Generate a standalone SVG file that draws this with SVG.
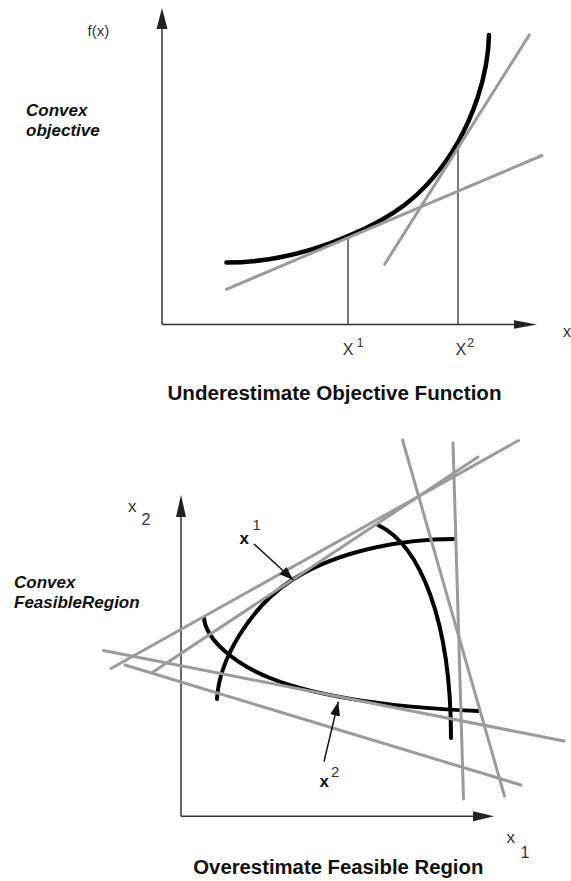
<svg xmlns="http://www.w3.org/2000/svg" width="571" height="881" viewBox="0 0 571 881">
<style>
.axis{stroke:#333;stroke-width:1.5;fill:none}
.thin{stroke:#333;stroke-width:1.3;fill:none}
.curve{stroke:#000;stroke-width:4.5;fill:none;stroke-linecap:round}
.curve2{stroke:#000;stroke-width:4;fill:none;stroke-linecap:round}
.gray{stroke:#9b9b9b;stroke-width:3;fill:none;stroke-linecap:round}
.ptr{stroke:#111;stroke-width:1.5;fill:none}
.head{fill:#111}
.lbl{font-family:"Liberation Sans",Arial,sans-serif;fill:#333}
.note{font-family:"Liberation Sans",Arial,sans-serif;font-weight:bold;font-style:italic;font-size:17px;fill:#111}
.title{font-family:"Liberation Sans",Arial,sans-serif;font-weight:bold;font-size:20px;fill:#111}
.bx{font-family:"Liberation Sans",Arial,sans-serif;font-weight:bold;fill:#111}
</style>
<defs>
<marker id="ah" viewBox="0 0 14 10" refX="14" refY="5" markerWidth="14" markerHeight="10" markerUnits="userSpaceOnUse" orient="auto">
<path d="M0,0 L14,5 L0,10 Z" class="head"/>
</marker>
</defs>

<g id="top-chart">
  <g id="top-axes">
    <line class="axis" x1="162" y1="324.5" x2="162" y2="27"/>
    <polygon points="162,8 156.5,29 167.5,29" fill="#222"/>
    <line class="axis" x1="162" y1="324.5" x2="516" y2="324.5"/>
    <polygon points="537,324.5 514,320.2 514,328.8" fill="#222"/>
    <line class="thin" x1="348" y1="236" x2="348" y2="324.5"/>
    <line class="thin" x1="458" y1="142" x2="458" y2="324.5"/>
  </g>
  <path id="objective-curve" class="curve" d="M226.4,262.5 C270,262.5 310,252.5 348.2,236 C385,220.5 425,200 458,142 C470,121 488,80 489,35"/>
  <g id="underestimators">
    <line class="gray" x1="226.4" y1="289.3" x2="542" y2="155.5"/>
    <line class="gray" x1="384.7" y1="264.2" x2="529.2" y2="35.1"/>
  </g>
  <g id="top-labels">
    <text class="lbl" x="87.5" y="36" font-size="15">f(x)</text>
    <text class="lbl" x="563" y="337" font-size="16">x</text>
    <text class="lbl" x="342.7" y="355" font-size="16">X</text>
    <text class="lbl" x="356.5" y="346.5" font-size="13">1</text>
    <text class="lbl" x="455.5" y="355" font-size="16">X</text>
    <text class="lbl" x="467" y="346.5" font-size="13">2</text>
    <text class="note" x="26" y="116">Convex</text>
    <text class="note" x="26" y="135.5">objective</text>
    <text class="title" x="167.5" y="400" textLength="334" lengthAdjust="spacingAndGlyphs">Underestimate Objective Function</text>
  </g>
</g>

<g id="bottom-chart">
  <g id="bottom-axes">
    <line class="axis" x1="181" y1="816.3" x2="181" y2="514"/>
    <polygon points="181,495 176,517 186,517" fill="#222"/>
    <line class="axis" x1="181" y1="816.3" x2="475" y2="816.3"/>
    <polygon points="494,816.3 473,811.3 473,821.3" fill="#222"/>
  </g>
  <g id="constraint-curves">
    <path id="curve-1" class="curve2" d="M217,699 C219,660 250,607 292,580 C342,548 410,539 453.5,539"/>
    <path id="curve-2" class="curve2" d="M378,525 C420,545 451,620 451,738"/>
    <path id="curve-3" class="curve2" d="M204,618 C206,640 235,664 270,678 C320,698 400,708 478,711"/>
  </g>
  <g id="overestimators">
    <line class="gray" x1="111" y1="668.5" x2="518.5" y2="440.5"/>
    <line class="gray" x1="153" y1="672" x2="478" y2="457"/>
    <line class="gray" x1="103.5" y1="650.5" x2="564" y2="741"/>
    <line class="gray" x1="125" y1="665" x2="521" y2="785"/>
    <line class="gray" x1="402.5" y1="440" x2="504.5" y2="796"/>
    <line class="gray" x1="453" y1="443" x2="463.5" y2="799"/>
  </g>
  <g id="pointers">
    <line class="ptr" x1="254" y1="544" x2="293.3" y2="580" marker-end="url(#ah)"/>
    <line class="ptr" x1="324" y1="761.7" x2="338.3" y2="701.7" marker-end="url(#ah)"/>
  </g>
  <g id="bottom-labels">
    <text class="lbl" x="128" y="512" font-size="17">x</text>
    <text class="lbl" x="141.5" y="525" font-size="16">2</text>
    <text class="lbl" x="506.5" y="843" font-size="17">x</text>
    <text class="lbl" x="520.5" y="858" font-size="16">1</text>
    <text class="bx" x="239.5" y="543.5" font-size="17">x</text>
    <text class="lbl" x="252.5" y="530" font-size="15" fill="#111">1</text>
    <text class="bx" x="319.5" y="787" font-size="17">x</text>
    <text class="lbl" x="331" y="776.5" font-size="15" fill="#111">2</text>
    <text class="note" x="14" y="588">Convex</text>
    <text class="note" x="14" y="608">FeasibleRegion</text>
    <text class="title" x="193.3" y="874" textLength="290" lengthAdjust="spacingAndGlyphs">Overestimate Feasible Region</text>
  </g>
</g>
</svg>
